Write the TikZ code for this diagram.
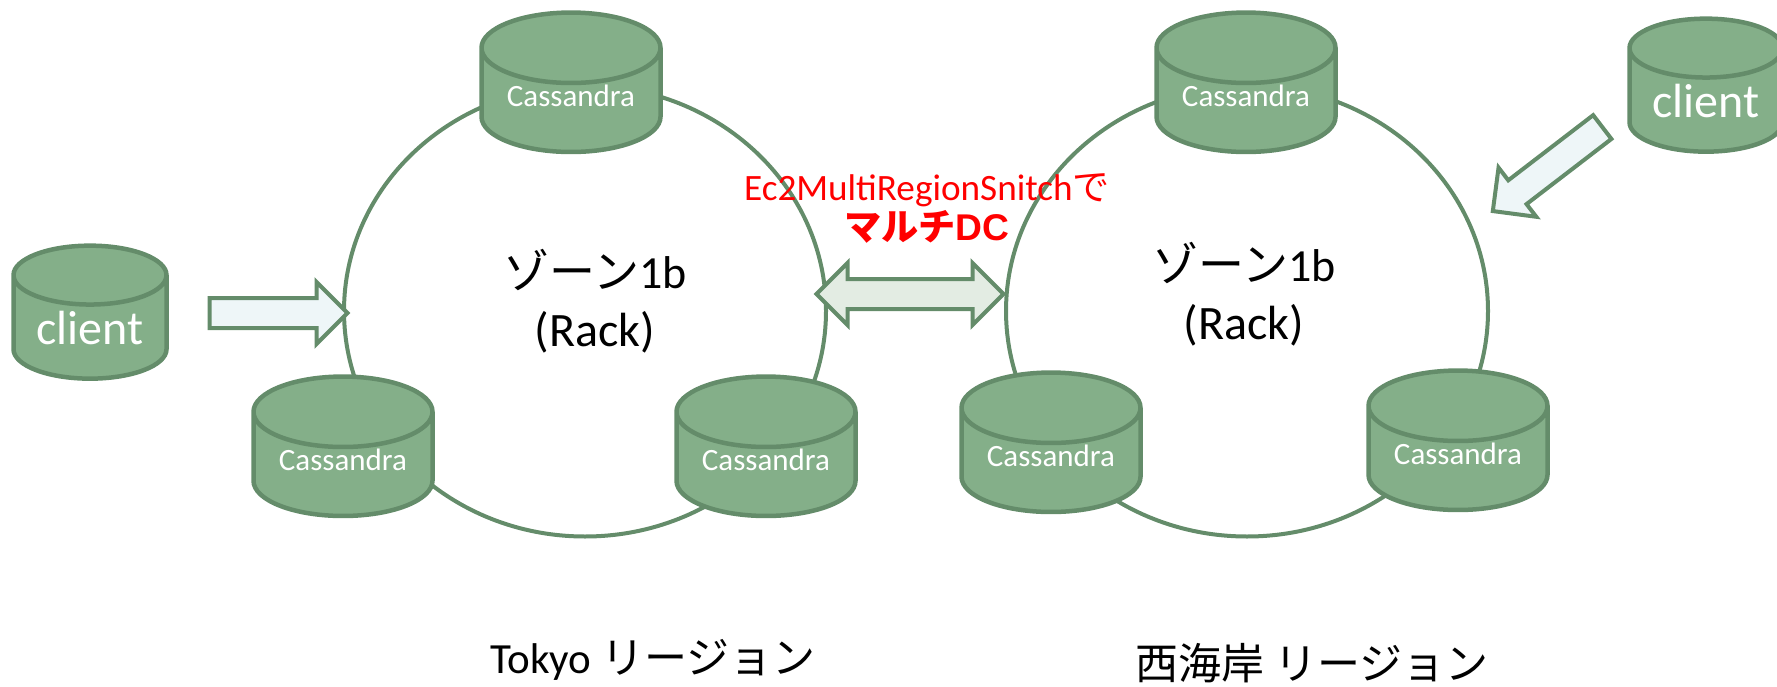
\documentclass[tikz,border=0pt]{standalone}
\usepackage{fontspec}
\setmainfont{Carlito}
\newfontfamily\cjk{Noto Sans CJK JP}
\newfontfamily\latinbold{Liberation Sans}
\usetikzlibrary{shapes.geometric,shapes.arrows,positioning}

\definecolor{cylfill}{HTML}{84AF89}
\definecolor{cylline}{HTML}{648C6A}
\definecolor{arrowfill}{HTML}{EEF6F8}
\definecolor{dblfill}{HTML}{E3ECE3}

\tikzset{
    ring/.style={draw=cylline,ellipse,line width=4pt,minimum width=482pt,minimum height=451pt,inner sep=0},
    cyl/.style={draw=cylline,fill=cylfill,cylinder,shape border rotate=90,line width=4.5pt,
        aspect=0.55,inner sep=0,text=white,anchor=center,yshift=-18pt},
    cass/.style={cyl,minimum width=179pt,minimum height=131pt,text depth=10pt,font=\fontsize{31pt}{31pt}\selectfont},
    clientdb/.style={cyl,minimum width=153pt,minimum height=133pt,font=\fontsize{48pt}{48pt}\selectfont},
    blockarrow/.style={draw=cylline,fill=arrowfill,single arrow,line width=4pt,inner sep=0,inner ysep=13pt,
        single arrow head extend=16pt,minimum height=138pt},
    bothways/.style={draw=cylline,fill=dblfill,double arrow,line width=4pt,inner sep=0,inner ysep=13pt,
        double arrow head extend=16pt,minimum height=187pt},
    zone/.style={align=center,font=\fontsize{46pt}{58pt}\selectfont},
    region/.style={font=\fontsize{43pt}{43pt}\selectfont}
}

\begin{document}
\begin{tikzpicture}[x=1pt,y=-1pt]
\clip (0,0) rectangle (1777,687);

% Rings
\node[ring] (ringtokyo) at (585,311) {};
\node[ring] (ringwest) at (1247,311) {};

% Tokyo nodes
\node[cass] (tokyoa) at (571,83) {Cassandra};
\node[cass] (tokyob) at (343,447) {Cassandra};
\node[cass] (tokyoc) at (766,447) {Cassandra};

% West coast nodes
\node[cass] (westa) at (1246,83) {Cassandra};
\node[cass] (westb) at (1051,443) {Cassandra};
\node[cass] (westc) at (1458,441) {Cassandra};

% Clients
\node[clientdb] (clienta) at (90,310) {client};
\node[clientdb] (clientb) at (1706,83) {client};

% Arrows
\node[blockarrow] (arrowa) at (271,313) {};
\node[blockarrow,rotate=217.5] (arrowb) at (1553.5,164.5) {};
\node[bothways] (arrowdc) at (910,294) {};

% Labels
\node[zone] (zonetokyo) at (595,301) {{\cjk ゾーン}1b\\{\fontsize{48pt}{58pt}\selectfont (Rack)}};
\node[zone] (zonewest) at (1244,294) {{\cjk ゾーン}1b\\{\fontsize{48pt}{58pt}\selectfont (Rack)}};
\node[align=center,text=red,font=\fontsize{37.2pt}{40pt}\selectfont] (snitch) at (927,209)
    {Ec2MultiRegionSnitch{\cjk で}\\{\cjk\bfseries マルチ}{\latinbold\bfseries DC}};
\node[region] (regiontokyo) at (653,660) {Tokyo {\cjk リージョン}};
\node[region] (regionwest) at (1312,663) {{\cjk 西海岸 リージョン}};

\end{tikzpicture}
\end{document}
